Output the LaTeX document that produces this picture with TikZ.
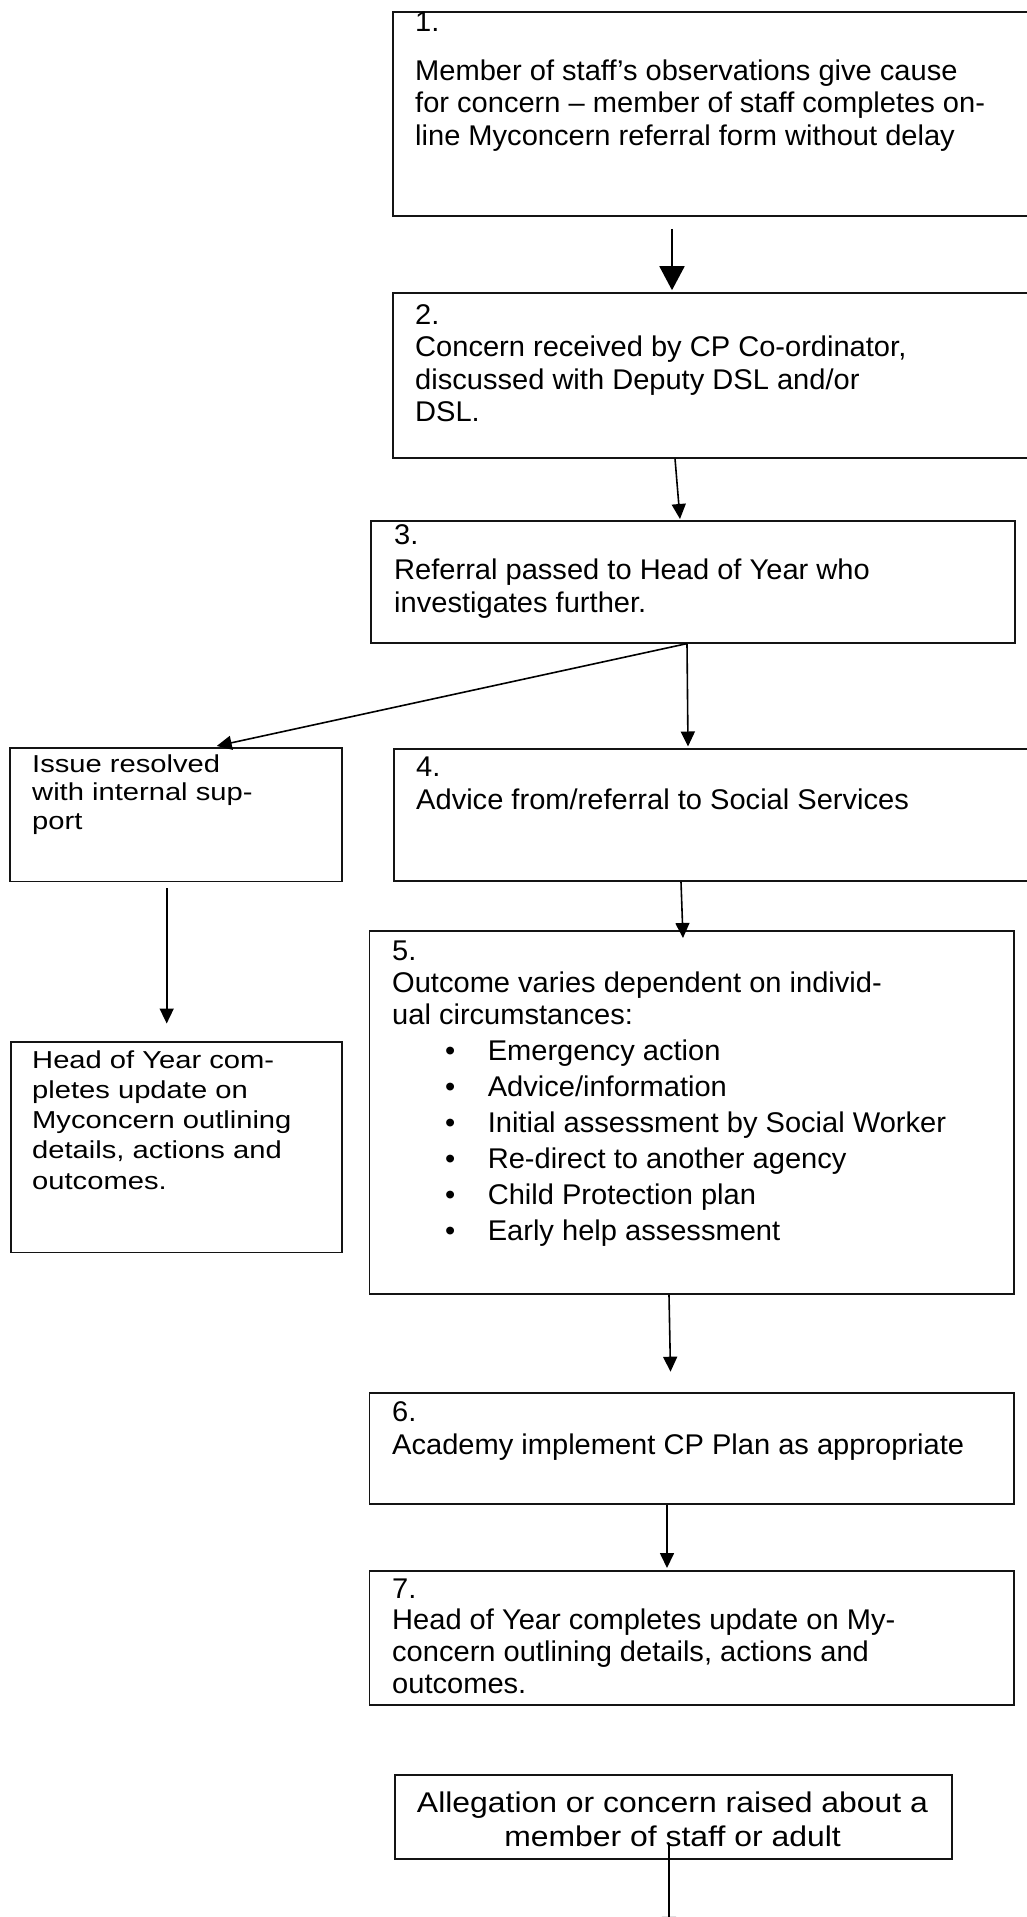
\documentclass[tikz,border=0pt]{standalone}
\usepackage{fontspec}
\setmainfont{Liberation Sans}
\newfontfamily\rfont[FakeStretch=1.02]{Liberation Sans}
\newfontfamily\lfont[FakeStretch=1.19]{Liberation Sans}
\newfontfamily\bfont[FakeStretch=1.12]{Liberation Sans}
\usetikzlibrary{arrows.meta,calc}
\begin{document}
\begin{tikzpicture}[x=1pt,y=-1pt,
  box/.style={draw=black!92, line width=1.9pt, inner sep=0pt, anchor=north west},
  rtext/.style={anchor=base west, inner sep=0pt, font=\rfont\fontsize{28.5}{32.5}\selectfont},
  ltext/.style={anchor=base west, inner sep=0pt, font=\lfont\fontsize{24.5}{30.3}\selectfont},
  btext/.style={anchor=base, inner sep=0pt, font=\bfont\fontsize{28.5}{34}\selectfont},
  arr/.style={line width=1.6pt, -{Triangle[length=15pt,width=14pt]}},
  bigarr/.style={line width=1.8pt, -{Triangle[length=24pt,width=25pt]}}
]
\clip (0,0) rectangle (1027,1917);
\fill[white] (0,0) rectangle (1027,1917);

% boxes
\node[box, minimum width=660pt, minimum height=204pt] (b1) at (392,11) {};
\node[box, minimum width=660pt, minimum height=165pt] (b2) at (392,291.7) {};
\node[box, minimum width=644pt, minimum height=121.7pt] (b3) at (370,520) {};
\node[box, minimum width=332pt, minimum height=133.5pt] (l1) at (9,747) {};
\node[box, minimum width=660pt, minimum height=132pt] (b4) at (393,748) {};
\node[box, minimum width=331pt, minimum height=210.5pt] (l2) at (10,1041) {};
\node[box, minimum width=644.5pt, minimum height=363pt] (b5) at (368.5,930) {};
\node[box, minimum width=644.5pt, minimum height=111.3pt] (b6) at (368.5,1391.7) {};
\node[box, minimum width=644.5pt, minimum height=134pt] (b7) at (368.5,1570) {};
\node[box, minimum width=557pt, minimum height=84pt] (b8) at (394,1774) {};

% texts
\node[rtext] (t1) at (415,31) {\parbox[t]{640pt}{1.\\[16.5pt]
Member of staff’s observations give cause\\
for concern – member of staff completes on-\\
line Myconcern referral form without delay}};
\node[rtext] (t2) at (415,324) {\parbox[t]{640pt}{2.\\
Concern received by CP Co-ordinator,\\
discussed with Deputy DSL and/or\\
DSL.}};
\node[rtext] (t3) at (394,544) {\parbox[t]{640pt}{3.\\[3pt]
Referral passed to Head of Year who\\
investigates further.}};
\node[ltext, font=\lfont\fontsize{24.5}{28.8}\selectfont] (tl1) at (32,772) {\parbox[t]{320pt}{Issue resolved\\
with internal sup-\\
port}};
\node[rtext] (t4) at (416,776.5) {\parbox[t]{640pt}{4.\\
Advice from/referral to Social Services}};
\node[ltext] (tl2) at (32,1068) {\parbox[t]{320pt}{Head of Year com-\\
pletes update on\\
Myconcern outlining\\
details, actions and\\
outcomes.}};
\node[rtext, font=\rfont\fontsize{28.5}{32}\selectfont] (t5) at (392,960) {\parbox[t]{640pt}{5.\\
Outcome varies dependent on individ-\\
ual circumstances:\\[4pt]
\hspace*{53pt}\makebox[42.6pt][l]{\textbullet}Emergency action\\[4pt]
\hspace*{53pt}\makebox[42.6pt][l]{\textbullet}Advice/information\\[4pt]
\hspace*{53pt}\makebox[42.6pt][l]{\textbullet}Initial assessment by Social Worker\\[4pt]
\hspace*{53pt}\makebox[42.6pt][l]{\textbullet}Re-direct to another agency\\[4pt]
\hspace*{53pt}\makebox[42.6pt][l]{\textbullet}Child Protection plan\\[4pt]
\hspace*{53pt}\makebox[42.6pt][l]{\textbullet}Early help assessment}};
\node[rtext] (t6) at (392,1421.7) {\parbox[t]{640pt}{6.\\
Academy implement CP Plan as appropriate}};
\node[rtext, font=\rfont\fontsize{28.5}{31.7}\selectfont] (t7) at (392,1598) {\parbox[t]{640pt}{7.\\
Head of Year completes update on My-\\
concern outlining details, actions and\\
outcomes.}};
\node[btext] (t8) at (672.5,1812) {\parbox[t]{560pt}{\centering
Allegation or concern raised about a\\
member of staff or adult}};

% connectors
\draw[bigarr] ($(b1.south west)+(280,12)$) -- ($(b2.north west)+(280,-1.5)$);
\draw[arr] ($(b2.south west)+(283,0)$) -- ($(b3.north west)+(310,-1)$);
\draw[arr] ($(b3.south west)+(317,0)$) -- ($(l1.north west)+(207.7,-1)$);
\draw[arr] ($(b3.south west)+(317,0)$) -- ($(b4.north west)+(295,-1.5)$);
\draw[arr] ($(l1.south west)+(157.7,6)$) -- ($(l2.north west)+(156.7,-17.5)$);
\draw[arr] ($(b4.south west)+(288,0)$) -- ($(b5.north west)+(314.5,8)$);
\draw[arr] ($(b5.south west)+(300.5,0)$) -- ($(b6.north west)+(302,-20)$);
\draw[arr] ($(b6.south west)+(298.5,0)$) -- ($(b7.north west)+(298.5,-2)$);
\coordinate (end8) at ($(b8.south west)+(275,72)$);
\draw[arr] ($(b8.south west)+(275,-17)$) -- (end8);
\end{tikzpicture}
\end{document}
